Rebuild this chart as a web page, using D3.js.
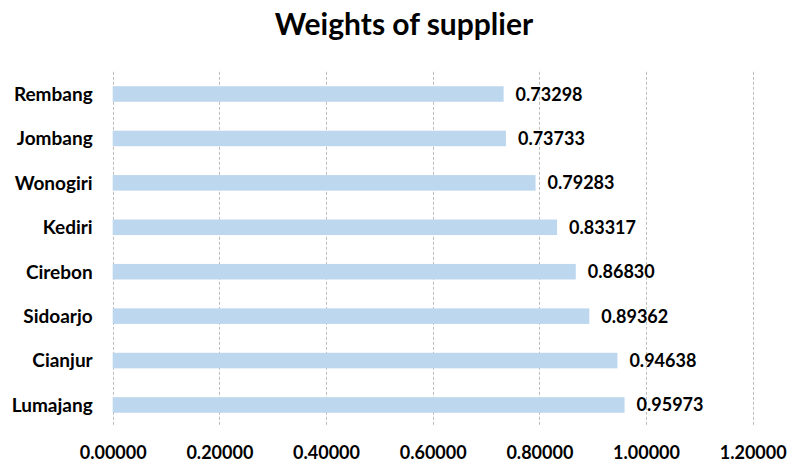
<!DOCTYPE html>
<html>
<head>
<meta charset="utf-8">
<script src="https://cdn.jsdelivr.net/npm/d3@7"></script>
<style>
  html, body { margin: 0; padding: 0; background: #fff; }
  svg { display: block; }
  text { font-family: Lato, "Liberation Sans", sans-serif; font-weight: bold; fill: #000; }
</style>
</head>
<body>
<svg id="chart" width="791" height="463"></svg>
<script>
const title = "Weights of supplier";
const categories = ["Rembang", "Jombang", "Wonogiri", "Kediri", "Cirebon", "Sidoarjo", "Cianjur", "Lumajang"];
const values = [0.73298, 0.73733, 0.79283, 0.83317, 0.86830, 0.89362, 0.94638, 0.95973];
const xTicks = [0, 0.2, 0.4, 0.6, 0.8, 1.0, 1.2];

const svg = d3.select("#chart");
const plot = { left: 112.7, right: 752.7, top: 71.8, bottom: 427.2 };

const x = d3.scaleLinear().domain([0, 1.2]).range([plot.left, plot.right]);
const y = d3.scaleBand().domain(categories).range([plot.top, plot.bottom])
  .paddingInner(0.65).paddingOuter(0.325);

// Title
svg.append("text")
  .attr("x", 404).attr("y", 35)
  .attr("text-anchor", "middle")
  .attr("font-size", 30)
  .text(title);

// Gridlines
svg.append("g")
  .selectAll("line")
  .data(xTicks)
  .join("line")
  .attr("x1", d => Math.round(x(d)) + 0.5)
  .attr("x2", d => Math.round(x(d)) + 0.5)
  .attr("y1", plot.top)
  .attr("y2", plot.bottom - 2)
  .attr("stroke", "#bcbcbc")
  .attr("stroke-width", 1)
  .attr("stroke-dasharray", "3,2");

// Bars
svg.append("g")
  .selectAll("rect")
  .data(categories)
  .join("rect")
  .attr("x", x(0))
  .attr("y", d => y(d))
  .attr("width", (d, i) => x(values[i]) - x(0))
  .attr("height", y.bandwidth())
  .attr("fill", "#bdd7ee");

// Value labels
svg.append("g")
  .selectAll("text")
  .data(categories)
  .join("text")
  .attr("x", (d, i) => x(values[i]) + 12)
  .attr("y", d => y(d) + y.bandwidth() / 2 + 6.5)
  .attr("font-size", 18)
  .text((d, i) => values[i].toFixed(5));

// Y axis (category labels)
const yAxis = d3.axisLeft(y).tickSize(0).tickPadding(20);
const gy = svg.append("g").attr("transform", `translate(${plot.left},0)`).call(yAxis);
gy.select(".domain").remove();
gy.selectAll("text")
  .attr("font-size", 19)
  .attr("font-family", null)
  .attr("fill", "#000")
  .attr("dy", "0.36em");

// X axis (tick labels)
const xAxis = d3.axisBottom(x).tickValues(xTicks).tickSize(0).tickPadding(0)
  .tickFormat(d => d.toFixed(5));
const gx = svg.append("g").attr("transform", `translate(0,${plot.bottom})`).call(xAxis);
gx.select(".domain").remove();
gx.selectAll("text")
  .attr("font-size", 18)
  .attr("font-family", null)
  .attr("fill", "#000")
  .attr("y", 32)
  .attr("dy", 0);
</script>
</body>
</html>
